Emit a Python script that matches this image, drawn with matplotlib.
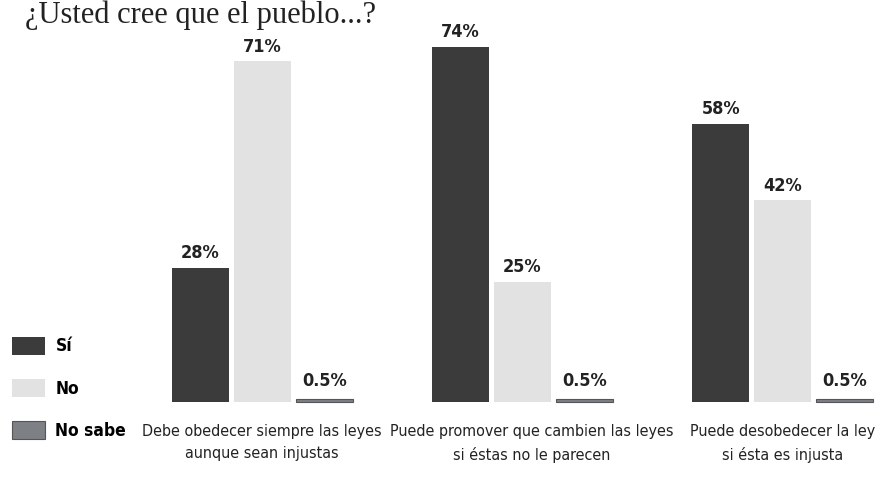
import matplotlib
matplotlib.use("Agg")
import matplotlib.pyplot as plt
import numpy as np

categories = ["Debe obedecer siempre las leyes\naunque sean injustas",
              "Puede promover que cambien las leyes\nsi éstas no le parecen",
              "Puede desobedecer la ley\nsi ésta es injusta"]
series = ["Sí", "No", "No sabe"]
si = [28, 74, 58]
no = [71, 25, 42]
no_sabe = [0.5, 0.5, 0.5]
labels_si = ["28%", "74%", "58%"]
labels_no = ["71%", "25%", "42%"]
labels_ns = ["0.5%", "0.5%", "0.5%"]

colors = ["#3b3b3b", "#e2e2e2", "#7d8186"]
narrow = ["DejaVu Sans"]

fig = plt.figure(figsize=(8.9, 4.82), dpi=100)
ax = fig.add_axes([0, 0, 1, 1])

centers = np.arange(len(categories)) * 4.2
w = 0.92
bars = []
for k, (vals, labs) in enumerate([(si, labels_si), (no, labels_no), (no_sabe, labels_ns)]):
    x = centers + (k - 1)
    b = ax.bar(x, vals, width=w, color=colors[k], label=series[k],
               edgecolor="#555555" if k == 2 else "none", linewidth=0.8)
    bars.append(b)
    for xi, v, t in zip(x, vals, labs):
        ax.annotate(t, (xi, v), xytext=(0, 7 if k == 2 else 4), textcoords="offset points",
                    ha="center", va="bottom", fontsize=13, fontweight="bold",
                    family=narrow, fontstretch="condensed", color="#222222")

for c, lab in zip(centers, categories):
    ax.text(c + (0.15 if 0 < c < 8 else 0), -4.6, lab, ha="center", va="top", fontsize=11.5,
            family=narrow, fontstretch="condensed", color="#222222", linespacing=1.6)

ax.set_xlim(-4.23, 10.13)
ax.set_ylim(-16.7, 83.75)
ax.axis("off")

fig.text(0.028, 0.952, "¿Usted cree que el pueblo...?", fontsize=22,
         family=["Liberation Serif", "DejaVu Serif"], ha="left", va="baseline", color="#222222")

ax.legend(handles=bars, labels=series, loc="lower left", bbox_to_anchor=(-0.004, 0.055),
          bbox_transform=fig.transFigure, frameon=False,
          prop={"family": narrow, "size": 12.5, "weight": "bold", "stretch": "condensed"},
          handlelength=1.9, handleheight=1.2, labelspacing=1.35, handletextpad=0.6)

fig.savefig("out.png", dpi=100)
